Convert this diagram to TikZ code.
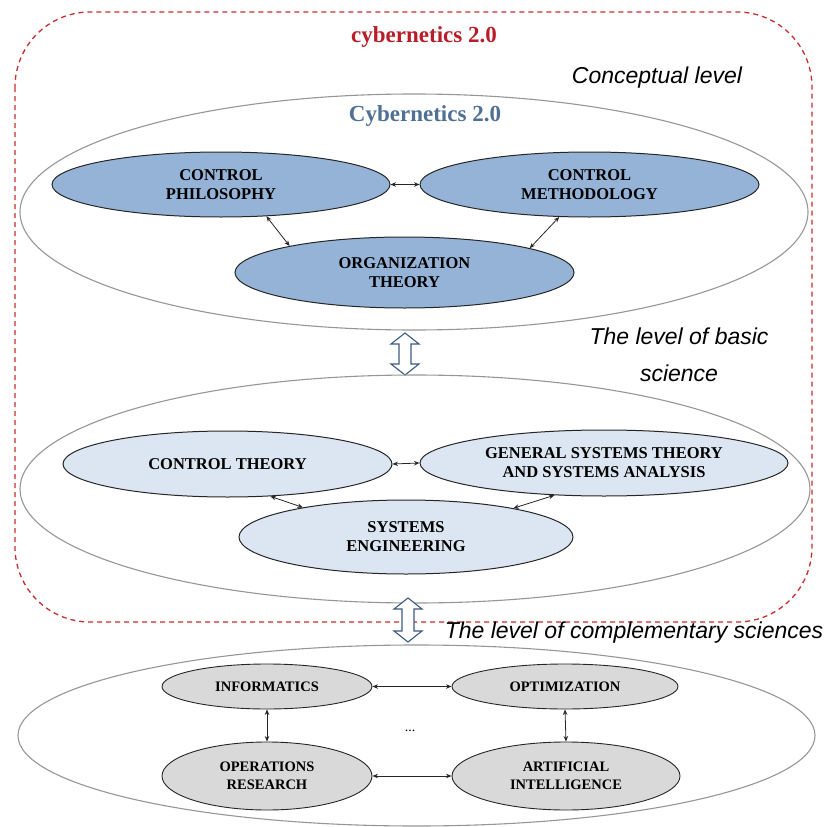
\documentclass[tikz,border=0pt]{standalone}
\usepackage{fontspec}
\setmainfont{Liberation Serif}
\newfontfamily\lvlfont{Liberation Sans}
\usetikzlibrary{shapes.geometric,arrows.meta,calc}
\definecolor{dashred}{RGB}{200,45,45}
\definecolor{titlered}{RGB}{185,30,40}
\definecolor{steel}{RGB}{79,111,148}
\definecolor{fillA}{RGB}{149,179,215}
\definecolor{fillB}{RGB}{220,230,242}
\definecolor{fillC}{RGB}{217,217,217}
\definecolor{outergray}{RGB}{150,150,150}
\definecolor{hollowblue}{RGB}{60,90,128}
\tikzset{
  outerell/.style={ellipse, draw=outergray, line width=1.1pt, inner sep=0pt},
  innerell/.style={ellipse, draw=black!85, line width=1pt, inner sep=0pt, align=center,
     font=\fontsize{16.5}{19}\selectfont\bfseries},
  smallell/.style={ellipse, draw=black!85, line width=0.9pt, inner sep=0pt, align=center,
     font=\fontsize{14.5}{17.5}\selectfont\bfseries},
  link/.style={{Stealth[length=5.5pt,width=4.5pt]}-{Stealth[length=5.5pt,width=4.5pt]}, line width=0.8pt, black!85},
  lvllabel/.style={font=\lvlfont\itshape\fontsize{23}{37}\selectfont, align=center, inner sep=0pt},
  titletext/.style={font=\fontsize{23}{27}\selectfont\bfseries},
  hollow/.style={draw=hollowblue, fill=white, line width=1.1pt, line join=miter}
}
\begin{document}
\begin{tikzpicture}[x=1pt,y=-1pt]
\useasboundingbox (0,0) rectangle (828,827);
% dashed frame
\draw[dashred, dashed, dash pattern=on 5pt off 4pt, line width=1.3pt, rounded corners=75pt] (15,12) rectangle (812,622);
\node[titletext, text=titlered] (t1) at (424,37) {cybernetics 2.0};
\node[lvllabel] (l1) at (657,78) {Conceptual level};

% level 1
\node[outerell, minimum width=788pt, minimum height=236pt] (o1) at (414,212) {};
\node[titletext, text=steel] (t2) at (425,116) {Cybernetics 2.0};
\node[innerell, fill=fillA, minimum width=338pt, minimum height=65pt] (cp) at (221,184.5) {CONTROL\\PHILOSOPHY};
\node[innerell, fill=fillA, minimum width=339pt, minimum height=65pt] (cm) at (589.5,184.5) {CONTROL\\METHODOLOGY};
\node[innerell, fill=fillA, minimum width=339pt, minimum height=71pt] (ot) at (404.5,272.5) {ORGANIZATION\\THEORY};
\draw[link] (cp.east) -- (cm.west);
\draw[link] (cp.-35) -- (ot.167);
\draw[link] (cm.-133) -- (ot.11);

% hollow arrow 1
\coordinate (h1a) at (405,333);
\coordinate (h1b) at (405,375);
\draw[hollow] (h1a) -- ++(14,11) -- ++(-8,0) -- ($(h1b)+(6,-11)$) -- ++(8,0) -- (h1b) -- ++(-14,-11) -- ++(8,0) -- ($(h1a)+(-6,11)$) -- ++(-8,0) -- cycle;

\node[lvllabel] (l2) at (679,355) {The level of basic\\science};

% level 2
\node[outerell, minimum width=790pt, minimum height=228pt] (o2) at (415,489) {};
\node[innerell, fill=fillB, minimum width=329pt, minimum height=66pt] (ct) at (227.5,464) {CONTROL THEORY};
\node[innerell, fill=fillB, minimum width=368pt, minimum height=66pt] (gst) at (604,463) {GENERAL SYSTEMS THEORY\\AND SYSTEMS ANALYSIS};
\node[innerell, fill=fillB, minimum width=334pt, minimum height=74pt] (se) at (406,537) {SYSTEMS\\ENGINEERING};
\draw[link] (ct.east) -- (gst.west);
\draw[link] (ct.-37) -- (se.164);
\draw[link] (gst.-147) -- (se.15);

% hollow arrow 2
\coordinate (h2a) at (408,598);
\coordinate (h2b) at (408,642);
\draw[hollow] (h2a) -- ++(14,11) -- ++(-8,0) -- ($(h2b)+(6,-11)$) -- ++(8,0) -- (h2b) -- ++(-14,-11) -- ++(8,0) -- ($(h2a)+(-6,11)$) -- ++(-8,0) -- cycle;

\node[lvllabel] (l3) at (634,633) {The level of complementary sciences};

% level 3
\node[outerell, minimum width=797pt, minimum height=181pt] (o3) at (416.5,735.5) {};
\node[smallell, fill=fillC, minimum width=210pt, minimum height=45pt] (inf) at (267,686.5) {INFORMATICS};
\node[smallell, fill=fillC, minimum width=226pt, minimum height=45pt] (opt) at (565,686.5) {OPTIMIZATION};
\node[smallell, fill=fillC, minimum width=210pt, minimum height=68pt] (or) at (267,776) {OPERATIONS\\RESEARCH};
\node[smallell, fill=fillC, minimum width=228pt, minimum height=68pt] (ai) at (566,776) {ARTIFICIAL\\INTELLIGENCE};
\draw[link] (inf.east) -- (opt.west);
\draw[link] (or.east) -- (ai.west);
\draw[link] (inf.south) -- (or.north);
\draw[link] (opt.south) -- (ai.north);
\node[font=\fontsize{14}{16}\selectfont] (dots) at (410,731) {...};
\end{tikzpicture}
\end{document}
